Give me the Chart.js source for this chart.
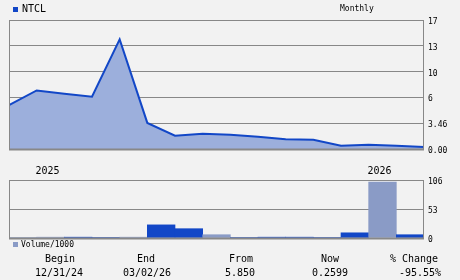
<!DOCTYPE html>
<html>
<head>
<meta charset="utf-8">
<script src="https://cdn.jsdelivr.net/npm/chart.js@4/dist/chart.umd.min.js"></script>
<style>
  html, body { margin: 0; padding: 0; background: #f2f2f2; }
  #wrap { position: relative; width: 460px; height: 280px; background: #f2f2f2; overflow: hidden; }
  canvas { position: absolute; left: 0; }
  .t { position: absolute; color: #000; white-space: nowrap; line-height: 1; font-family: "DejaVu Sans Mono", monospace; }
  .s8 { font-size: 8px; }
  .s10 { font-size: 10px; }
  .c { transform: translateX(-50%); }
  .sq { position: absolute; width: 5px; height: 5px; }
</style>
</head>
<body>
<div id="wrap">
  <canvas id="price" width="460" height="160" style="top:0"></canvas>
  <canvas id="vol" width="460" height="100" style="top:160px"></canvas>

  <div class="sq" style="left:13px;top:7px;background:#1247c7"></div>
  <div class="t s10" style="left:22px;top:4px">NTCL</div>
  <div class="t s8" style="left:340px;top:5px">Monthly</div>

  <div class="sq" style="left:13px;top:242px;background:#8a9bc6"></div>
  <div class="t s8" style="left:21px;top:241px">Volume/1000</div>

  <div class="t s10 c" style="left:60px;top:254px">Begin</div>
  <div class="t s10 c" style="left:59px;top:267.5px">12/31/24</div>
  <div class="t s10 c" style="left:146px;top:254px">End</div>
  <div class="t s10 c" style="left:147px;top:267.5px">03/02/26</div>
  <div class="t s10 c" style="left:241px;top:254px">From</div>
  <div class="t s10 c" style="left:240px;top:267.5px">5.850</div>
  <div class="t s10 c" style="left:330px;top:254px">Now</div>
  <div class="t s10 c" style="left:330px;top:267.5px">0.2599</div>
  <div class="t s10 c" style="left:414px;top:254px">% Change</div>
  <div class="t s10 c" style="left:420px;top:267.5px">-95.55%</div>
</div>
<script>
// ---- data ----
const months = ['Dec','Jan','Feb','Mar','Apr','May','Jun','Jul','Aug','Sep','Oct','Nov','Dec','Jan','Feb'];
const yearLabels = ['','2025','','','','','','','','','','','','2026',''];
const pricePoints = [0,1,2,3,4,5,6,7,8,9,10,11,12,13,14,15];
const priceValues = [5.9, 7.85, 7.4, 7.0, 14.7, 3.5, 1.78, 2.05, 1.9, 1.65, 1.3, 1.25, 0.45, 0.58, 0.45, 0.26];
const priceTickLabels = ['0.00','3.46','6','10','13','17'];
const volumeValues = [0.8, 1.5, 1.5, 0.8, 1.5, 24, 17, 6, 0.8, 1.5, 1.5, 0.8, 9.5, 102, 6];
const volumeUp = [true, true, false, false, true, false, false, true, false, false, false, false, false, true, false];
const volumeTickLabels = ['0','53','106'];

const GRID = '#888888';
const LINE = '#1247c7';
const FILL = '#9cafdc';
const UPBAR = '#8a9bc6';
const DOWNBAR = '#1247c7';

const framePlugin = {
  id: 'frame',
  afterDatasetsDraw(chart) {
    const a = chart.chartArea, ctx = chart.ctx;
    ctx.save();
    ctx.strokeStyle = GRID;
    ctx.lineWidth = 1;
    ctx.strokeRect(Math.round(a.left) + 0.5, Math.round(a.top) + 0.5,
                   Math.round(a.right - a.left) - 1, Math.round(a.bottom - a.top));
    ctx.lineWidth = 2;
    ctx.beginPath();
    ctx.moveTo(a.left, Math.round(a.bottom) + 0.5);
    ctx.lineTo(a.right, Math.round(a.bottom) + 0.5);
    ctx.stroke();
    ctx.restore();
  }
};

Chart.defaults.animation = false;
Chart.defaults.devicePixelRatio = 1;

new Chart(document.getElementById('price'), {
  type: 'line',
  data: {
    datasets: [{
      data: pricePoints.map((x, i) => ({ x: x, y: priceValues[i] })),
      borderColor: LINE,
      borderWidth: 2,
      backgroundColor: FILL,
      fill: 'origin',
      pointRadius: 0,
      tension: 0
    }]
  },
  options: {
    responsive: false,
    animation: false,
    layout: { padding: { left: 9, top: 20, bottom: 11, right: 0 } },
    plugins: { legend: { display: false }, tooltip: { enabled: false } },
    scales: {
      x: { type: 'linear', min: 0, max: 15, display: false },
      y: {
        position: 'right',
        min: 0, max: 17.3,
        afterFit(s) { s.width = 36; },
        afterBuildTicks(s) { s.ticks = priceTickLabels.map((_, i) => ({ value: i * 3.46 })); },
        ticks: {
          padding: 4,
          labelOffset: 2,
          color: '#000',
          font: { family: 'DejaVu Sans Mono', size: 8 },
          callback: (v, i) => priceTickLabels[i]
        },
        grid: { color: GRID, lineWidth: 1, drawTicks: false },
        border: { display: false }
      }
    }
  },
  plugins: [framePlugin]
});

new Chart(document.getElementById('vol'), {
  type: 'bar',
  data: {
    labels: months,
    datasets: [{
      data: volumeValues,
      backgroundColor: volumeUp.map(u => u ? UPBAR : DOWNBAR),
      borderWidth: 0,
      barPercentage: 1,
      categoryPercentage: 1
    }]
  },
  options: {
    responsive: false,
    animation: false,
    layout: { padding: { left: 9, top: 0, bottom: 22, right: 0 } },
    plugins: { legend: { display: false }, tooltip: { enabled: false } },
    scales: {
      x: {
        position: 'top',
        afterFit(s) { s.height = 20; },
        grid: { display: false, drawTicks: false },
        border: { display: false },
        ticks: {
          autoSkip: false, maxRotation: 0, padding: 3, labelOffset: -3,
          color: '#000',
          font: { family: 'DejaVu Sans Mono', size: 10 },
          callback: (v, i) => yearLabels[i]
        }
      },
      y: {
        position: 'right',
        min: 0, max: 106,
        afterFit(s) { s.width = 36; },
        afterBuildTicks(s) { s.ticks = volumeTickLabels.map(t => ({ value: Number(t) })); },
        ticks: {
          padding: 4,
          labelOffset: 2,
          color: '#000',
          font: { family: 'DejaVu Sans Mono', size: 8 },
          callback: (v, i) => volumeTickLabels[i]
        },
        grid: { color: GRID, lineWidth: 1, drawTicks: false },
        border: { display: false }
      }
    }
  },
  plugins: [framePlugin]
});
</script>
</body>
</html>
